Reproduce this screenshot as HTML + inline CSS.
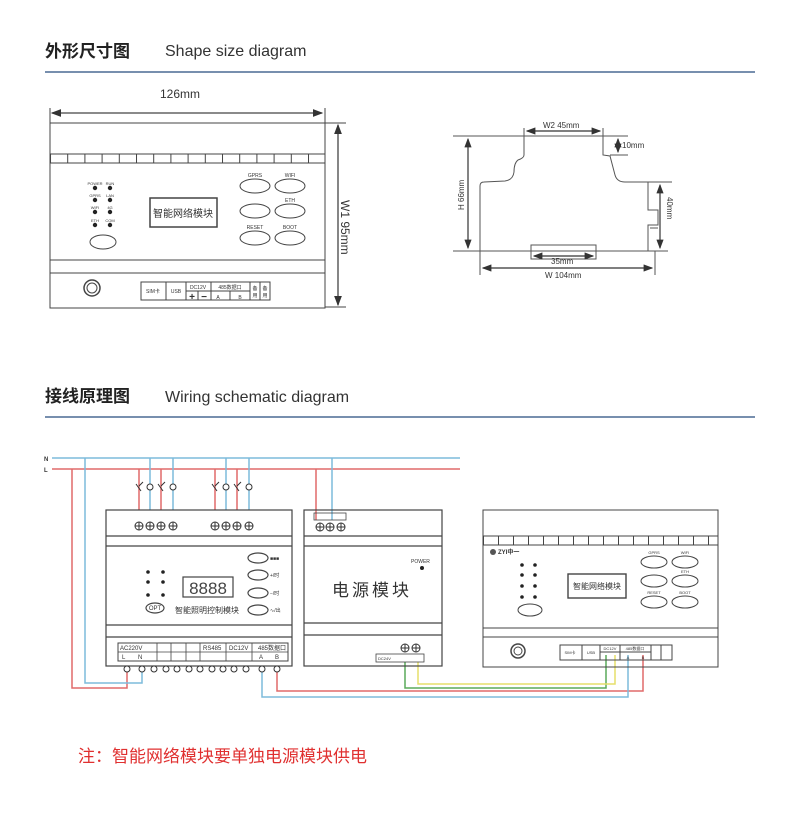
<!DOCTYPE html>
<html><head><meta charset="utf-8"><style>
body{margin:0;background:#fff}
svg{display:block}
text{font-family:"Liberation Sans","Noto Sans CJK SC",sans-serif}
text:not([fill]){fill:#333}
</style></head><body>
<svg width="800" height="816" viewBox="0 0 800 816" xmlns="http://www.w3.org/2000/svg">
<defs>
<pattern id="fin1" x="50" y="0" width="17.2" height="20" patternUnits="userSpaceOnUse"><line x1="0.5" y1="0" x2="0.5" y2="20" stroke="#444" stroke-width="1"/></pattern>
<pattern id="fin2" x="483" y="0" width="15" height="20" patternUnits="userSpaceOnUse"><line x1="0.5" y1="0" x2="0.5" y2="20" stroke="#444" stroke-width="1"/></pattern>
<marker id="ar" markerWidth="8" markerHeight="6" refX="7" refY="3" orient="auto-start-reverse"><path d="M0,0 L8,3 L0,6z" fill="#333"/></marker>
</defs>

<!-- headers -->
<text x="45" y="57" font-size="17" font-weight="bold" fill="#222">外形尺寸图</text>
<text x="165" y="56" font-size="16" fill="#333">Shape size diagram</text>
<line x1="45" y1="72" x2="755" y2="72" stroke="#4a6a94" stroke-width="1.5"/>
<text x="45" y="402" font-size="17" font-weight="bold" fill="#222">接线原理图</text>
<text x="165" y="402" font-size="16" fill="#333">Wiring schematic diagram</text>
<line x1="45" y1="417" x2="755" y2="417" stroke="#4a6a94" stroke-width="1.5"/>

<!-- Device 1 -->
<g stroke="#444" fill="none" stroke-width="1">
<line x1="50" y1="108" x2="50" y2="123"/><line x1="325" y1="108" x2="325" y2="123"/>
<line x1="52" y1="113" x2="322" y2="113" marker-start="url(#ar)" marker-end="url(#ar)" stroke-width="1.3"/>
<rect x="50" y="123" width="275" height="185"/>
<rect x="50" y="154" width="275" height="9" fill="url(#fin1)"/>
<line x1="50" y1="260" x2="325" y2="260"/><line x1="50" y1="273" x2="325" y2="273"/>
<line x1="325" y1="123" x2="346" y2="123"/><line x1="325" y1="307" x2="346" y2="307"/>
<line x1="338" y1="125" x2="338" y2="305" marker-start="url(#ar)" marker-end="url(#ar)" stroke-width="1.3"/>
<rect x="150" y="198" width="67" height="29" stroke-width="1.5"/>
<ellipse cx="103" cy="242" rx="13" ry="7"/>
<ellipse cx="255" cy="186" rx="15" ry="7"/><ellipse cx="290" cy="186" rx="15" ry="7"/>
<ellipse cx="255" cy="211" rx="15" ry="7"/><ellipse cx="290" cy="211" rx="15" ry="7"/>
<ellipse cx="255" cy="238" rx="15" ry="7"/><ellipse cx="290" cy="238" rx="15" ry="7"/>
<circle cx="92" cy="288" r="8" stroke-width="1.5"/><circle cx="92" cy="288" r="5"/>
<rect x="141" y="282" width="129" height="18"/>
<line x1="166" y1="282" x2="166" y2="300"/><line x1="186" y1="282" x2="186" y2="300"/>
<line x1="211" y1="282" x2="211" y2="300"/><line x1="250" y1="282" x2="250" y2="300"/><line x1="260" y1="282" x2="260" y2="300"/>
<line x1="186" y1="291" x2="250" y2="291"/><line x1="198" y1="291" x2="198" y2="300"/><line x1="230" y1="291" x2="230" y2="300"/>
</g>
<text x="160" y="98" font-size="12">126mm</text>
<text transform="translate(341,200) rotate(90)" font-size="12">W1  95mm</text>
<text x="183" y="217" font-size="10" text-anchor="middle">智能网络模块</text>
<g fill="#222"><circle cx="95" cy="188" r="2.2"/><circle cx="110" cy="188" r="2.2"/><circle cx="95" cy="200" r="2.2"/><circle cx="110" cy="200" r="2.2"/><circle cx="95" cy="212" r="2.2"/><circle cx="110" cy="212" r="2.2"/><circle cx="95" cy="225" r="2.2"/><circle cx="110" cy="225" r="2.2"/></g>
<g font-size="4" text-anchor="middle"><text x="95" y="185">POWER</text><text x="110" y="185">RUN</text><text x="95" y="197">GPRS</text><text x="110" y="197">LAN</text><text x="95" y="209">WIFI</text><text x="110" y="209">4G</text><text x="95" y="222">ETH</text><text x="110" y="222">COM</text></g>
<g font-size="5" text-anchor="middle"><text x="255" y="177">GPRS</text><text x="290" y="177">WIFI</text><text x="290" y="202">ETH</text><text x="255" y="229">RESET</text><text x="290" y="229">BOOT</text></g>
<g font-size="5" text-anchor="middle"><text x="153" y="293">SIM卡</text><text x="176" y="293">USB</text><text x="198" y="289">DC12V</text><text x="230" y="289">485数据口</text><text x="218" y="299">A</text><text x="240" y="299">B</text><text x="255" y="290">备</text><text x="255" y="297">用</text><text x="265" y="290">备</text><text x="265" y="297">用</text></g>
<g font-size="10" font-weight="bold" text-anchor="middle"><text x="192" y="300">+</text><text x="204" y="300">−</text></g>

<!-- side view -->
<g stroke="#555" fill="none" stroke-width="1">
<line x1="453" y1="136" x2="628" y2="136"/>
<line x1="524" y1="128" x2="524" y2="140"/><line x1="603" y1="128" x2="603" y2="140"/>
<path d="M524,136 L524,155 Q524,158 518,160 Q514,163 514,172 Q513,180 505,181 L484,182 Q480,182 480,186 L480,251"/>
<path d="M603,136 L603,155 L610,156 L615,175 Q617,182 625,182 L672,182"/>
<path d="M648,182 L648,210 L658,210 L658,225 L648,225 L648,251"/>
<path d="M650,228 L658,228"/>
<line x1="453" y1="251" x2="668" y2="251"/>
<rect x="531" y="245" width="65" height="14"/>
<line x1="610" y1="155" x2="628" y2="155"/>
<line x1="480" y1="251" x2="480" y2="275"/><line x1="655" y1="251" x2="655" y2="275"/>
</g>
<g stroke="#333" stroke-width="1.2">
<line x1="527" y1="131" x2="600" y2="131" marker-start="url(#ar)" marker-end="url(#ar)"/>
<line x1="468" y1="139" x2="468" y2="248" marker-start="url(#ar)" marker-end="url(#ar)"/>
<line x1="660" y1="185" x2="660" y2="248" marker-start="url(#ar)" marker-end="url(#ar)"/>
<line x1="618" y1="139" x2="618" y2="152" marker-start="url(#ar)" marker-end="url(#ar)"/>
<line x1="534" y1="256" x2="593" y2="256" marker-start="url(#ar)" marker-end="url(#ar)"/>
<line x1="483" y1="268" x2="652" y2="268" marker-start="url(#ar)" marker-end="url(#ar)"/>
</g>
<g font-size="8"><text x="543" y="128">W2  45mm</text><text x="622" y="148">10mm</text><text x="551" y="264">35mm</text><text x="545" y="278">W   104mm</text></g>
<text transform="translate(464,210) rotate(-90)" font-size="8">H   66mm</text>
<text transform="translate(667,197) rotate(90)" font-size="8">40mm</text>

<!-- wiring: N/L -->
<text x="44" y="461" font-size="6" font-weight="bold">N</text>
<text x="44" y="472" font-size="6" font-weight="bold">L</text>
<g fill="none" stroke-width="1.5">
<line x1="52" y1="458" x2="460" y2="458" stroke="#7dbbdc"/>
<line x1="52" y1="469" x2="460" y2="469" stroke="#e06a6a"/>
<path d="M72,469 V688 H127 V670" stroke="#e06a6a"/>
<path d="M85,458 V683 H142 V670" stroke="#7dbbdc"/>
<path d="M139,469 V520 M161,469 V520 M215,469 V520 M237,469 V520 M316,469 V520" stroke="#e06a6a"/>
<path d="M150,458 V520 M173,458 V520 M226,458 V520 M249,458 V520 M332,458 V520" stroke="#7dbbdc"/>
<path d="M277,670 V691 H643 V655" stroke="#e06a6a"/>
<path d="M262,670 V697 H628 V655" stroke="#7dbbdc"/>
<path d="M405,662 V688 H606 V655" stroke="#5aaa5a"/>
<path d="M418,662 V684 H615 V655" stroke="#e6df6a"/>
</g>
<!-- switches and bulbs -->
<g stroke="#333" fill="#fff" stroke-width="1">
<path d="M136,484 L141,491 M143,482 L139,486"/><path d="M158,484 L163,491 M165,482 L161,486"/>
<path d="M212,484 L217,491 M219,482 L215,486"/><path d="M234,484 L239,491 M241,482 L237,486"/>
<circle cx="150" cy="487" r="3"/><circle cx="173" cy="487" r="3"/><circle cx="226" cy="487" r="3"/><circle cx="249" cy="487" r="3"/>
</g>

<!-- lighting controller -->
<g stroke="#444" fill="none" stroke-width="1.2">
<rect x="106" y="510" width="186" height="156" fill="#fff"/>
<line x1="106" y1="536" x2="292" y2="536"/><line x1="106" y1="546" x2="292" y2="546"/>
<line x1="106" y1="625" x2="292" y2="625"/><line x1="106" y1="637" x2="292" y2="637"/>
<rect x="183" y="577" width="50" height="20"/>
<ellipse cx="155" cy="608" rx="9" ry="5"/>
<ellipse cx="258" cy="558" rx="10" ry="5"/><ellipse cx="258" cy="575" rx="10" ry="5"/><ellipse cx="258" cy="593" rx="10" ry="5"/><ellipse cx="258" cy="610" rx="10" ry="5"/>
<rect x="118" y="643" width="170" height="18" stroke-width="1"/>
<line x1="118" y1="652" x2="288" y2="652" stroke-width="0.8"/>
<path d="M157,643V661 M171,643V661 M186,643V661 M200,643V661 M226,643V661 M252,643V661" stroke-width="0.8"/>
</g>
<g stroke="#333" fill="#fff" stroke-width="1">
<circle cx="139" cy="526" r="4"/><circle cx="150" cy="526" r="4"/><circle cx="161" cy="526" r="4"/><circle cx="173" cy="526" r="4"/>
<circle cx="215" cy="526" r="4"/><circle cx="226" cy="526" r="4"/><circle cx="237" cy="526" r="4"/><circle cx="249" cy="526" r="4"/>
<circle cx="320" cy="527" r="4"/><circle cx="330" cy="527" r="4"/><circle cx="341" cy="527" r="4"/>
<circle cx="405" cy="648" r="4"/><circle cx="416" cy="648" r="4"/>
</g>
<g stroke="#333" stroke-width="1">
<path d="M135,526h8M139,522v8M146,526h8M150,522v8M157,526h8M161,522v8M169,526h8M173,522v8M211,526h8M215,522v8M222,526h8M226,522v8M233,526h8M237,522v8M245,526h8M249,522v8M316,527h8M320,523v8M326,527h8M330,523v8M337,527h8M341,523v8M401,648h8M405,644v8M412,648h8M416,644v8"/>
</g>
<g stroke="#333" fill="#fff" stroke-width="1">
<circle cx="127" cy="669" r="3"/><circle cx="142" cy="669" r="3"/><circle cx="154" cy="669" r="3"/><circle cx="166" cy="669" r="3"/><circle cx="177" cy="669" r="3"/><circle cx="189" cy="669" r="3"/><circle cx="200" cy="669" r="3"/><circle cx="212" cy="669" r="3"/><circle cx="223" cy="669" r="3"/><circle cx="234" cy="669" r="3"/><circle cx="246" cy="669" r="3"/><circle cx="262" cy="669" r="3"/><circle cx="277" cy="669" r="3"/>
</g>
<text x="208" y="594" font-size="17" text-anchor="middle" font-family="Liberation Mono" fill="#444">8888</text>
<g fill="#222"><circle cx="148" cy="572" r="1.8"/><circle cx="163" cy="572" r="1.8"/><circle cx="148" cy="582" r="1.8"/><circle cx="163" cy="582" r="1.8"/><circle cx="148" cy="595" r="1.8"/><circle cx="163" cy="595" r="1.8"/></g>
<text x="155" y="610" font-size="6" text-anchor="middle">OPT</text>
<text x="175" y="613" font-size="8">智能照明控制模块</text>
<g font-size="5"><text x="270" y="560">■■■</text><text x="270" y="577">+/时</text><text x="270" y="595">−/时</text><text x="270" y="612">∿/出</text></g>
<g font-size="6"><text x="120" y="650">AC220V</text><text x="122" y="659">L</text><text x="138" y="659">N</text><text x="258" y="650">485数据口</text><text x="259" y="659">A</text><text x="275" y="659">B</text><text x="229" y="650">DC12V</text><text x="203" y="650">RS485</text></g>

<!-- power module -->
<g stroke="#444" fill="none" stroke-width="1.2">
<rect x="304" y="510" width="138" height="156"/>
<line x1="304" y1="536" x2="442" y2="536"/><line x1="304" y1="546" x2="442" y2="546"/>
<line x1="304" y1="623" x2="442" y2="623"/><line x1="304" y1="635" x2="442" y2="635"/>
<rect x="314" y="513" width="32" height="7" stroke-width="0.8"/>
<rect x="376" y="654" width="48" height="8" stroke-width="0.8"/>
</g>
<circle cx="422" cy="568" r="2" fill="#222"/>
<text x="411" y="563" font-size="5">POWER</text>
<text x="372" y="596" font-size="17" text-anchor="middle" font-family="Liberation Serif,'Noto Serif CJK SC',serif" letter-spacing="3">电源模块</text>
<text x="378" y="660" font-size="4">DC24V</text>

<!-- network module 2 -->
<g stroke="#444" fill="none" stroke-width="1">
<rect x="483" y="510" width="235" height="157"/>
<rect x="483" y="536" width="235" height="9" fill="url(#fin2)"/>
<line x1="483" y1="628" x2="718" y2="628"/><line x1="483" y1="637" x2="718" y2="637"/>
<rect x="568" y="574" width="58" height="24" stroke-width="1.4"/>
<ellipse cx="530" cy="610" rx="12" ry="6"/>
<ellipse cx="654" cy="562" rx="13" ry="6"/><ellipse cx="685" cy="562" rx="13" ry="6"/>
<ellipse cx="654" cy="581" rx="13" ry="6"/><ellipse cx="685" cy="581" rx="13" ry="6"/>
<ellipse cx="654" cy="602" rx="13" ry="6"/><ellipse cx="685" cy="602" rx="13" ry="6"/>
<circle cx="518" cy="651" r="7" stroke-width="1.5"/><circle cx="518" cy="651" r="4"/>
<rect x="560" y="645" width="112" height="15"/>
<path d="M582,645V660 M600,645V660 M620,645V660 M651,645V660 M661,645V660 M620,652H651 M620,652H600"/>
</g>
<circle cx="493" cy="552" r="3" fill="#555"/><text x="498" y="554" font-size="6" font-weight="bold">ZYI中一</text>
<g fill="#222"><circle cx="522" cy="565" r="1.8"/><circle cx="535" cy="565" r="1.8"/><circle cx="522" cy="575" r="1.8"/><circle cx="535" cy="575" r="1.8"/><circle cx="522" cy="586" r="1.8"/><circle cx="535" cy="586" r="1.8"/><circle cx="522" cy="597" r="1.8"/><circle cx="535" cy="597" r="1.8"/></g>
<text x="597" y="589" font-size="8" text-anchor="middle">智能网络模块</text>
<g font-size="4" text-anchor="middle"><text x="654" y="554">GPRS</text><text x="685" y="554">WIFI</text><text x="685" y="573">ETH</text><text x="654" y="594">RESET</text><text x="685" y="594">BOOT</text><text x="570" y="654">SIM卡</text><text x="591" y="654">USB</text><text x="610" y="650">DC12V</text><text x="635" y="650">485数据口</text><text x="628" y="659">A</text><text x="643" y="659">B</text></g>

<!-- note -->
<text x="78" y="762" font-size="17" fill="#e03030">注：智能网络模块要单独电源模块供电</text>
</svg>
</body></html>
